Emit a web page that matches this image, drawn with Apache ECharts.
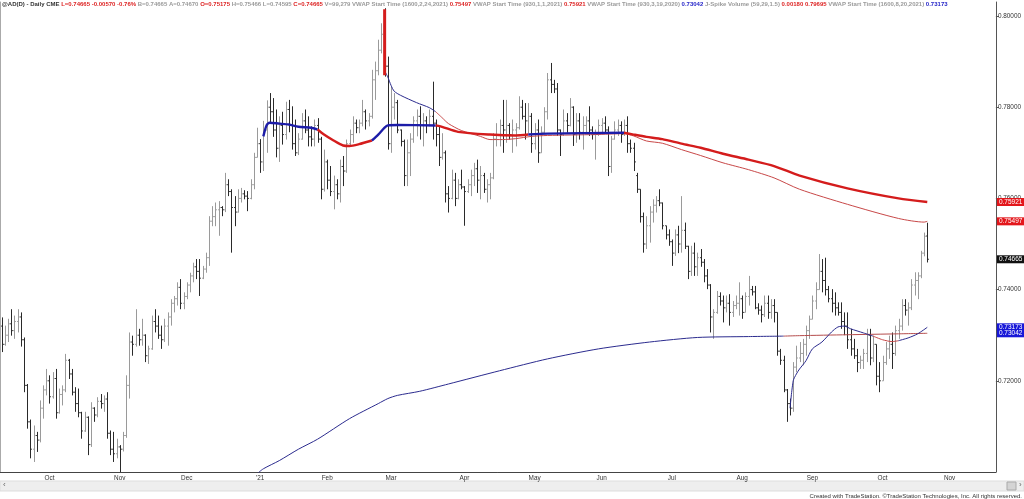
<!DOCTYPE html>
<html><head><meta charset="utf-8">
<script src="https://cdn.jsdelivr.net/npm/echarts@6/dist/echarts.min.js"></script>
<style>html,body{margin:0;padding:0;background:#fff}#c{width:1024px;height:499px}</style>
</head><body><div id="c"></div>
<script>
// ---------- categories: daily trading sessions ----------
const firstDay = '2020-09-10', lastDay = '2021-11-19';
function tradingDays(a, b) {
  const out = [], d = new Date(a + 'T00:00:00Z'), e = new Date(b + 'T00:00:00Z');
  while (d <= e) { const w = d.getUTCDay(); if (w > 0 && w < 6) out.push(d.toISOString().slice(0, 10)); d.setUTCDate(d.getUTCDate() + 1); }
  return out;
}
const dates = tradingDays(firstDay, lastDay);
const monthLabels = {'2020-10':'Oct','2020-11':'Nov','2020-12':'Dec','2021-01':"'21",'2021-02':'Feb','2021-03':'Mar','2021-04':'Apr','2021-05':'May','2021-06':'Jun','2021-07':'Jul','2021-08':'Aug','2021-09':'Sep','2021-10':'Oct','2021-11':'Nov'};
const yTicks = [0.72, 0.74, 0.76, 0.78, 0.80];

// ---------- daily bars [open, high, low, close], from 2020-09-10 ----------
const ohlc = [
[.7320,.7339,.7263,.7280],[.7280,.7321,.7277,.7300],[.7300,.7336,.7285,.7325],[.7325,.7357,.7299,.7310],[.7310,.7343,.7292,.7330],
[.7330,.7357,.7306,.7340],[.7340,.7350,.7275,.7290],[.7290,.7295,.7175,.7190],[.7190,.7193,.7095,.7110],[.7110,.7115,.7030,.7050],
[.7050,.7102,.7022,.7080],[.7080,.7088,.7044,.7070],[.7070,.7157,.7065,.7140],[.7140,.7190,.7117,.7180],[.7180,.7226,.7168,.7200],
[.7200,.7212,.7150,.7165],[.7165,.7219,.7161,.7205],[.7205,.7226,.7117,.7130],[.7130,.7183,.7128,.7170],[.7170,.7190,.7146,.7180],
[.7180,.7259,.7175,.7245],[.7245,.7248,.7204,.7215],[.7215,.7226,.7168,.7175],[.7175,.7186,.7132,.7150],[.7150,.7183,.7120,.7130],
[.7130,.7132,.7073,.7090],[.7090,.7132,.7088,.7120],[.7120,.7122,.7037,.7060],[.7060,.7153,.7055,.7140],[.7140,.7142,.7110,.7125],
[.7125,.7164,.7120,.7155],[.7155,.7171,.7139,.7150],[.7150,.7168,.7132,.7160],[.7160,.7175,.7073,.7085],[.7085,.7091,.7037,.7050],
[.7050,.7088,.7022,.7040],[.7040,.7073,.7030,.7055],[.7055,.7059,.6990,.7050],[.7050,.7088,.7045,.7080],[.7080,.7212,.7075,.7190],
[.7190,.7306,.7161,.7285],[.7285,.7299,.7255,.7280],[.7280,.7357,.7275,.7300],[.7300,.7314,.7277,.7290],[.7290,.7336,.7277,.7300],
[.7300,.7302,.7241,.7255],[.7255,.7277,.7237,.7270],[.7270,.7343,.7268,.7330],[.7330,.7357,.7306,.7320],[.7320,.7343,.7292,.7300],
[.7300,.7321,.7270,.7290],[.7290,.7336,.7285,.7320],[.7320,.7350,.7277,.7340],[.7340,.7379,.7321,.7370],[.7370,.7386,.7350,.7380],
[.7380,.7416,.7365,.7405],[.7405,.7423,.7357,.7370],[.7370,.7394,.7357,.7385],[.7385,.7416,.7379,.7410],[.7410,.7437,.7394,.7430],
[.7430,.7459,.7416,.7450],[.7450,.7467,.7423,.7440],[.7440,.7467,.7386,.7425],[.7425,.7452,.7423,.7445],[.7445,.7481,.7437,.7470],
[.7470,.7561,.7452,.7550],[.7550,.7583,.7539,.7560],[.7560,.7591,.7539,.7575],[.7575,.7594,.7518,.7580],[.7580,.7583,.7561,.7575],
[.7575,.7656,.7570,.7630],[.7630,.7642,.7605,.7615],[.7615,.7620,.7481,.7580],[.7580,.7605,.7539,.7570],[.7570,.7620,.7569,.7600],
[.7600,.7623,.7591,.7610],[.7610,.7618,.7598,.7605],[.7605,.7616,.7572,.7600],[.7600,.7642,.7598,.7630],[.7630,.7700,.7620,.7690],
[.7690,.7755,.7690,.7720],[.7720,.7730,.7656,.7680],[.7680,.7770,.7660,.7750],[.7750,.7815,.7700,.7800],[.7800,.7831,.7765,.7790],
[.7790,.7820,.7735,.7750],[.7750,.7795,.7690,.7710],[.7710,.7780,.7680,.7760],[.7760,.7790,.7718,.7740],[.7740,.7812,.7729,.7795],
[.7795,.7816,.7745,.7760],[.7760,.7802,.7707,.7720],[.7720,.7773,.7693,.7700],[.7700,.7743,.7695,.7730],[.7730,.7787,.7729,.7770],
[.7770,.7795,.7743,.7750],[.7750,.7780,.7714,.7735],[.7735,.7758,.7714,.7730],[.7730,.7773,.7714,.7760],[.7760,.7776,.7722,.7730],
[.7730,.7735,.7598,.7620],[.7620,.7707,.7615,.7680],[.7680,.7685,.7620,.7640],[.7640,.7671,.7605,.7615],[.7615,.7650,.7576,.7630],
[.7630,.7642,.7598,.7610],[.7610,.7685,.7591,.7670],[.7670,.7693,.7627,.7660],[.7660,.7729,.7656,.7720],[.7720,.7751,.7714,.7740],
[.7740,.7780,.7722,.7765],[.7765,.7773,.7743,.7755],[.7755,.7773,.7743,.7765],[.7765,.7816,.7758,.7790],[.7790,.7795,.7751,.7770],
[.7770,.7787,.7758,.7780],[.7780,.7882,.7775,.7860],[.7860,.7900,.7816,.7880],[.7880,.7948,.7870,.7925],[.7925,.7984,.7918,.7960],
[.7960,.8017,.7867,.7890],[.7890,.7911,.7707,.7720],[.7720,.7846,.7700,.7800],[.7800,.7831,.7773,.7810],[.7810,.7816,.7743,.7750],
[.7750,.7751,.7714,.7725],[.7725,.7729,.7627,.7650],[.7650,.7729,.7627,.7700],[.7700,.7743,.7649,.7730],[.7730,.7780,.7722,.7770],
[.7770,.7795,.7736,.7780],[.7780,.7802,.7729,.7760],[.7760,.7787,.7714,.7770],[.7770,.7780,.7743,.7760],[.7760,.7795,.7758,.7780],
[.7780,.7856,.7729,.7765],[.7765,.7773,.7714,.7740],[.7740,.7758,.7671,.7690],[.7690,.7743,.7685,.7700],[.7700,.7705,.7591,.7610],
[.7610,.7627,.7569,.7600],[.7600,.7663,.7598,.7640],[.7640,.7656,.7583,.7600],[.7600,.7642,.7598,.7630],[.7630,.7663,.7620,.7625],
[.7625,.7627,.7540,.7615],[.7615,.7642,.7612,.7630],[.7630,.7663,.7605,.7650],[.7650,.7678,.7627,.7665],[.7665,.7685,.7612,.7640],
[.7640,.7671,.7598,.7650],[.7650,.7656,.7612,.7620],[.7620,.7642,.7591,.7630],[.7630,.7656,.7598,.7645],[.7645,.7743,.7642,.7730],
[.7730,.7765,.7714,.7740],[.7740,.7773,.7714,.7760],[.7760,.7816,.7700,.7750],[.7750,.7816,.7722,.7760],[.7760,.7765,.7729,.7740],
[.7740,.7773,.7700,.7750],[.7750,.7765,.7714,.7755],[.7755,.7824,.7751,.7800],[.7800,.7816,.7773,.7780],[.7780,.7809,.7729,.7770],
[.7770,.7809,.7743,.7780],[.7780,.7787,.7700,.7720],[.7720,.7765,.7707,.7750],[.7750,.7773,.7678,.7700],[.7700,.7758,.7700,.7745],
[.7745,.7800,.7743,.7790],[.7790,.7875,.7773,.7860],[.7860,.7897,.7831,.7850],[.7850,.7860,.7831,.7840],[.7840,.7853,.7737,.7750],
[.7750,.7751,.7693,.7740],[.7740,.7795,.7737,.7770],[.7770,.7787,.7744,.7760],[.7760,.7820,.7758,.7800],[.7800,.7802,.7715,.7740],
[.7740,.7787,.7722,.7770],[.7770,.7787,.7729,.7745],[.7745,.7780,.7707,.7760],[.7760,.7780,.7744,.7770],[.7770,.7802,.7737,.7750],
[.7750,.7758,.7729,.7740],[.7740,.7751,.7685,.7740],[.7740,.7773,.7737,.7760],[.7760,.7776,.7744,.7765],[.7765,.7780,.7744,.7750],
[.7750,.7758,.7649,.7670],[.7670,.7737,.7656,.7730],[.7730,.7769,.7729,.7750],[.7750,.7773,.7737,.7760],[.7760,.7769,.7722,.7740],
[.7740,.7773,.7737,.7760],[.7760,.7780,.7700,.7720],[.7720,.7729,.7700,.7710],[.7710,.7722,.7660,.7680],[.7650,.7656,.7612,.7620],
[.7620,.7620,.7547,.7560],[.7560,.7569,.7481,.7500],[.7500,.7561,.7489,.7540],[.7540,.7583,.7503,.7570],[.7570,.7598,.7547,.7585],
[.7585,.7605,.7569,.7595],[.7595,.7620,.7583,.7590],[.7590,.7591,.7532,.7540],[.7540,.7540,.7510,.7520],[.7520,.7532,.7496,.7505],
[.7505,.7510,.7452,.7480],[.7480,.7532,.7474,.7520],[.7520,.7540,.7480,.7500],[.7500,.7605,.7481,.7530],[.7530,.7547,.7489,.7495],
[.7495,.7496,.7423,.7440],[.7440,.7496,.7430,.7480],[.7480,.7503,.7430,.7450],[.7450,.7481,.7430,.7470],[.7470,.7489,.7450,.7460],
[.7460,.7467,.7416,.7430],[.7430,.7445,.7401,.7410],[.7410,.7412,.7306,.7340],[.7340,.7357,.7292,.7350],[.7350,.7397,.7347,.7385],
[.7385,.7394,.7365,.7375],[.7375,.7387,.7328,.7360],[.7360,.7387,.7350,.7370],[.7370,.7390,.7321,.7350],[.7350,.7375,.7340,.7365],
[.7365,.7387,.7357,.7370],[.7370,.7416,.7343,.7380],[.7380,.7387,.7336,.7350],[.7350,.7394,.7350,.7385],[.7385,.7430,.7365,.7400],
[.7400,.7408,.7387,.7395],[.7395,.7408,.7357,.7360],[.7360,.7370,.7345,.7355],[.7355,.7365,.7328,.7345],[.7345,.7387,.7340,.7370],
[.7370,.7387,.7336,.7350],[.7350,.7379,.7336,.7365],[.7365,.7379,.7328,.7350],[.7350,.7350,.7255,.7265],[.7265,.7270,.7235,.7245],
[.7245,.7255,.7175,.7180],[.7180,.7182,.7110,.7150],[.7150,.7161,.7124,.7140],[.7140,.7241,.7132,.7230],[.7230,.7277,.7219,.7250],
[.7250,.7285,.7241,.7260],[.7260,.7292,.7234,.7280],[.7280,.7321,.7255,.7310],[.7310,.7343,.7292,.7335],[.7335,.7387,.7335,.7375],
[.7375,.7416,.7357,.7400],[.7400,.7478,.7400,.7440],[.7440,.7467,.7394,.7420],[.7420,.7470,.7387,.7400],[.7400,.7408,.7372,.7380],
[.7380,.7401,.7350,.7370],[.7370,.7394,.7343,.7360],[.7360,.7372,.7343,.7350],[.7350,.7372,.7314,.7330],[.7330,.7350,.7300,.7320],
[.7320,.7350,.7270,.7290],[.7290,.7314,.7255,.7270],[.7270,.7292,.7248,.7255],[.7255,.7270,.7219,.7240],[.7240,.7255,.7226,.7245],
[.7245,.7270,.7226,.7260],[.7260,.7314,.7241,.7300],[.7300,.7314,.7234,.7250],[.7250,.7299,.7241,.7280],[.7280,.7280,.7190,.7210],
[.7210,.7241,.7175,.7200],[.7200,.7255,.7200,.7240],[.7240,.7285,.7235,.7270],[.7270,.7299,.7248,.7280],[.7280,.7306,.7226,.7260],
[.7260,.7321,.7255,.7310],[.7310,.7336,.7292,.7320],[.7320,.7379,.7310,.7365],[.7365,.7379,.7343,.7355],[.7355,.7372,.7321,.7360],
[.7360,.7423,.7355,.7410],[.7410,.7438,.7387,.7420],[.7420,.7438,.7379,.7430],[.7430,.7485,.7425,.7480],[.7480,.7525,.7473,.7517],
[.75175,.75466,.74595,.74665]
];

// ---------- anchored VWAP lines [date, value] ----------
const vwapJan2021 = [
['2021-01-04',.7736],['2021-01-05',.7760],['2021-01-06',.7766],['2021-01-11',.7764],['2021-01-14',.7762],['2021-01-19',.7757],
['2021-01-25',.7755],['2021-01-27',.7751],['2021-01-29',.7740],['2021-02-03',.7727],['2021-02-08',.7716],['2021-02-10',.7715],
['2021-02-15',.7719],['2021-02-19',.7727],['2021-02-23',.7740],['2021-02-25',.7755],['2021-02-26',.7760],['2021-03-03',.7761],
['2021-03-19',.7760],['2021-03-23',.7757],['2021-03-30',.7746],['2021-04-13',.7740],['2021-04-23',.7738],['2021-04-29',.7740],
['2021-05-07',.7742],['2021-06-10',.7744],['2021-06-15',.7740],['2021-06-21',.7735],['2021-06-28',.7730],['2021-07-06',.7720],
['2021-07-14',.7711],['2021-07-23',.7698],['2021-08-04',.7685],['2021-08-16',.7671],['2021-08-26',.7650],['2021-09-16',.7622],
['2021-10-08',.7600],['2021-10-21',.75921]
];
const vwapFeb2021Open = [['2021-02-25',.8015],['2021-02-25',.7870]];
const vwapFeb2021 = [
['2021-02-25',.7880],['2021-02-26',.7866],['2021-03-01',.7848],['2021-03-02',.7835],['2021-03-04',.7826],['2021-03-11',.7810],
['2021-03-17',.7799],['2021-03-19',.7790],['2021-03-23',.7777],['2021-03-25',.7764],['2021-03-31',.7749],['2021-04-08',.7736],
['2021-04-13',.7729],['2021-04-19',.7729],['2021-04-23',.7731],['2021-04-30',.7736],['2021-05-07',.7738],['2021-05-28',.7740],
['2021-06-10',.7742],['2021-06-15',.7737],['2021-06-21',.7726],['2021-06-28',.7721],['2021-07-06',.7707],['2021-07-14',.7694],
['2021-07-23',.7678],['2021-08-04',.7663],['2021-08-16',.7645],['2021-08-26',.7620],['2021-09-16',.7587],['2021-10-08',.7556],
['2021-10-20',.7548],['2021-10-21',.75497]
];
const vwapMar2020 = [
['2020-12-31',.6996],['2021-01-04',.7007],['2021-01-11',.7025],['2021-01-19',.7050],['2021-01-27',.7072],['2021-02-10',.7117],
['2021-02-23',.7150],['2021-02-26',.7161],['2021-03-03',.7168],['2021-03-12',.7177],['2021-03-25',.7193],['2021-04-16',.7222],
['2021-05-07',.7248],['2021-05-31',.7270],['2021-06-22',.7285],['2021-07-13',.7295],['2021-08-04',.7297],['2021-08-19',.7298],
['2021-08-26',.7299],['2021-09-16',.7301],['2021-10-08',.7303],['2021-10-21',.73042]
];
const vwapAug2021 = [
['2021-08-23',.7140],['2021-08-24',.7200],['2021-08-25',.7215],['2021-08-26',.7226],['2021-08-30',.7244],['2021-09-01',.7270],
['2021-09-06',.7285],['2021-09-09',.7307],['2021-09-13',.7318],['2021-09-15',.7320],['2021-09-17',.7314],['2021-09-23',.7305],
['2021-09-28',.7298],['2021-10-01',.7290],['2021-10-06',.7286],['2021-10-08',.7288],['2021-10-13',.7294],['2021-10-18',.7303],
['2021-10-21',.73173]
];
const lastValues = [0.75921, 0.75497, 0.74665, 0.73173, 0.73042];
const lastValueColors = ['#e3161b', '#e3161b', '#111111', '#1818d8', '#1818d8'];
const header = [
 ['@AD(D) - Daily CME','k'],['L=0.74665 -0.00570 -0.76%','r'],['B=0.74665','g'],['A=0.74670','g'],['O=0.75175','r'],
 ['H=0.75466','g'],['L=0.74595','g'],['C=0.74665','r'],['V=99,279','g'],['VWAP Start Time (1600,2,24,2021)','g'],['0.75497','r'],
 ['VWAP Start Time (930,1,1,2021)','g'],['0.75921','r'],['VWAP Start Time (930,3,19,2020)','g'],['0.73042','b'],
 ['J-Spike Volume (59,29,1.5)','g'],['0.00180 0.79695','r'],['VWAP Start Time (1600,8,20,2021)','g'],['0.73173','b']
];

// ---------- styles ----------
const C = {thickBlue:'#1c1ca8', thickRed:'#d41c1c', navy:'#2b2b8e', thinRed:'#c84848', upBar:'#9a9a9a', downBar:'#2a2a2a'};
const sections = {
  jan: [['2021-01-04','2021-01-27',C.thickBlue],['2021-01-27','2021-02-19',C.thickRed],['2021-02-19','2021-03-19',C.thickBlue],
        ['2021-03-19','2021-04-29',C.thickRed],['2021-04-29','2021-06-10',C.thickBlue],['2021-06-10','2021-10-21',C.thickRed]],
  feb: [['2021-02-25','2021-03-19',C.navy],['2021-03-19','2021-10-21',C.thinRed]],
  mar: [['2020-12-31','2021-08-19',C.navy],['2021-08-19','2021-10-21','#b54c4c']],
  aug: [['2021-08-23','2021-09-28',C.navy],['2021-09-28','2021-10-08',C.thinRed],['2021-10-08','2021-10-21',C.navy]]
};
const FONT = 'Liberation Sans, Arial, sans-serif';

const di = d => dates.indexOf(d);
function sectionSeries(points, secs, width, z) {
  return secs.map(([a, b, color]) => ({
    type: 'line', silent: true, symbol: 'none', smooth: 0.25, z: z,
    lineStyle: {color: color, width: width}, itemStyle: {color: color},
    data: points.filter(p => di(p[0]) >= di(a) && di(p[0]) <= di(b)).map(p => [di(p[0]), p[1]])
  }));
}
const isMonthStart = i => i > 0 && dates[i].slice(0, 7) !== dates[i - 1].slice(0, 7) && monthLabels[dates[i].slice(0, 7)];
const isMonday = i => new Date(dates[i] + 'T00:00:00Z').getUTCDay() === 1;

const chart = echarts.init(document.getElementById('c'), null, {renderer: 'canvas'});
const series = [];
series.push({
  type: 'custom', name: 'AD', z: 3, clip: true,
  data: ohlc.map((r, i) => [i, r[0], r[1], r[2], r[3]]),
  encode: {x: 0, y: [1, 2, 3, 4]},
  renderItem: (params, api) => {
    const i = api.value(0);
    const o = api.coord([i, api.value(1)]), h = api.coord([i, api.value(2)]);
    const l = api.coord([i, api.value(3)]), c = api.coord([i, api.value(4)]);
    const x = Math.round(h[0]) + 0.5;
    const t = 1.4;
    const col = api.value(4) >= api.value(1) ? C.upBar : C.downBar;
    const st = {stroke: col, lineWidth: 1};
    return {type: 'group', children: [
      {type: 'line', shape: {x1: x, y1: h[1], x2: x, y2: l[1]}, style: st},
      {type: 'line', shape: {x1: x - t, y1: o[1], x2: x, y2: o[1]}, style: st},
      {type: 'line', shape: {x1: x, y1: c[1], x2: x + t, y2: c[1]}, style: st}
    ]};
  }
});
series.push(...sectionSeries(vwapMar2020, sections.mar, 1, 4));
series.push(...sectionSeries(vwapAug2021, sections.aug, 1, 4));
series.push(...sectionSeries(vwapFeb2021, sections.feb, 1, 5));
series.push(...sectionSeries(vwapJan2021, sections.jan, 2.4, 6));
series.push({type: 'line', silent: true, symbol: 'none', z: 6, lineStyle: {color: C.thickRed, width: 3},
  data: vwapFeb2021Open.map(p => [di(p[0]), p[1]])});
// one holder series per last-value box
lastValues.forEach((v, k) => {
  series.push({
    type: 'line', silent: true, symbol: 'none', data: [], z: 10 + k,
    markLine: {silent: true, symbol: ['none', 'none'], animation: false, precision: 5,
      lineStyle: {color: 'rgba(0,0,0,0)', width: 0},
      label: {show: true, position: 'end', distance: 1, formatter: v.toFixed(5), color: '#fff',
        backgroundColor: lastValueColors[k], fontSize: 6.5, fontFamily: FONT, padding: [1, 2, 0, 2], lineHeight: 7},
      data: [{yAxis: v}]}
  });
});

const HF = 6;
const rich = {
  k: {color: '#333', fontSize: HF, fontFamily: FONT},
  r: {color: '#d22', fontSize: HF, fontFamily: FONT},
  g: {color: '#9a9a9a', fontSize: HF, fontFamily: FONT},
  b: {color: '#2424c8', fontSize: HF, fontFamily: FONT}
};

chart.setOption({
  animation: false,
  backgroundColor: '#fff',
  title: [
    {text: header.map(([t, s]) => '{' + s + '|' + t + '}').join(' '), left: 2, top: 1, padding: 0,
     textStyle: {rich: rich, fontSize: HF, fontFamily: FONT}},
    {text: 'Created with TradeStation. \u00A9TradeStation Technologies, Inc. All rights reserved.', right: 2, bottom: 0, padding: 0,
     textStyle: {fontSize: 6, color: '#333', fontWeight: 'normal', fontFamily: FONT}}
  ],
  grid: {left: 0, right: 26, top: 2, bottom: 27, containLabel: false},
  xAxis: {
    type: 'category', data: dates, boundaryGap: true,
    axisLine: {lineStyle: {color: '#444', width: 1}},
    axisTick: {alignWithLabel: true, length: 3, interval: (i) => isMonthStart(i) || isMonday(i), lineStyle: {color: '#444'}},
    axisLabel: {interval: (i) => !!isMonthStart(i), formatter: (v) => monthLabels[v.slice(0, 7)] || '',
      fontSize: 6.4, color: '#333', margin: 3, fontFamily: FONT},
    splitLine: {show: false}
  },
  yAxis: [
    {type: 'value', position: 'right', min: 0.70, max: 0.80307, interval: 0.02,
     axisLine: {show: true, lineStyle: {color: '#555'}},
     axisTick: {show: true, length: 3, lineStyle: {color: '#555'}},
     axisLabel: {formatter: v => yTicks.some(t => Math.abs(t - v) < 1e-6) ? v.toFixed(5) : '', fontSize: 6.4, color: '#333', margin: 2,
       showMinLabel: false, showMaxLabel: false, fontFamily: FONT},
     splitLine: {show: false}},
    {type: 'value', position: 'left', min: 0.70, max: 0.80307,
     axisLine: {show: true, lineStyle: {color: '#aaa'}}, axisTick: {show: false}, axisLabel: {show: false}, splitLine: {show: false}}
  ],
  graphic: [
    {type: 'rect', shape: {x: 0, y: 481, width: 1024, height: 10}, style: {fill: '#eeeeee', stroke: '#dddddd'}, silent: true},
    {type: 'rect', shape: {x: 1007, y: 482, width: 9, height: 8}, style: {fill: '#d4d4d4', stroke: '#aaa'}, silent: true},
    {type: 'text', x: 3, y: 481, style: {text: '\u2039', fontSize: 8, fill: '#666'}, silent: true},
    {type: 'text', x: 1019, y: 481, style: {text: '\u203A', fontSize: 8, fill: '#666'}, silent: true}
  ],
  series: series
});
</script></body></html>
